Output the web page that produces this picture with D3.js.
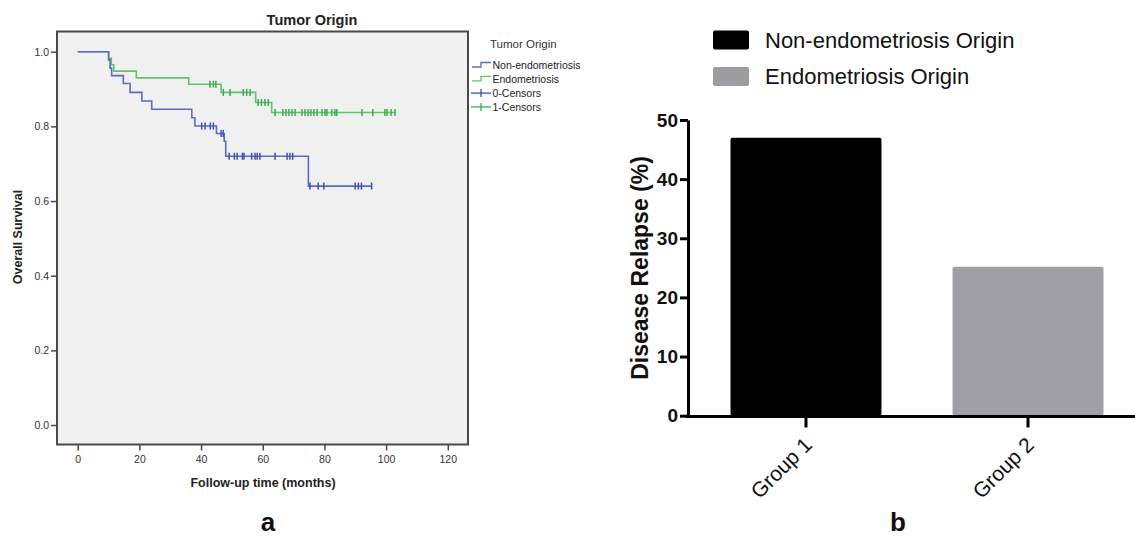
<!DOCTYPE html>
<html>
<head>
<meta charset="utf-8">
<script src="https://cdn.jsdelivr.net/npm/d3@7"></script>
<style>
  body { margin: 0; background: #fff; }
  svg { display: block; font-family: "Liberation Sans", Arial, sans-serif; }
</style>
</head>
<body>
<div id="chart"></div>
<script>
// ---- panel a: Kaplan-Meier curves ----
var kmTicksX = [0, 20, 40, 60, 80, 100, 120];
var kmTicksY = [0, 0.2, 0.4, 0.6, 0.8, 1.0];

var blueEventT = [10, 10.5, 11, 14.8, 17, 20.8, 24, 37, 38, 45, 47.5, 48, 74.8];
var blueEventS = [0.978, 0.956, 0.936, 0.915, 0.891, 0.868, 0.846, 0.823, 0.801, 0.781, 0.760, 0.720, 0.640];
var blueCensor = [40.2, 41.3, 43.0, 44.0, 46.5, 47.2, 49.1, 50.8, 51.7, 53.4, 53.9, 56.4, 57.5, 58.2, 59.1,
                  64.0, 67.9, 68.8, 69.7, 75.3, 78.0, 79.8, 90.0, 91.0, 92.0, 95.3];

var greenEventT = [10.1, 10.9, 11.7, 19, 36, 46.5, 57.7, 62.9];
var greenEventS = [0.982, 0.965, 0.948, 0.930, 0.913, 0.891, 0.864, 0.837];
var greenCensor = [42.9, 44.0, 44.8, 47.2, 49.4, 53.7, 54.8, 55.9, 58.5, 59.6, 60.7, 61.8, 64.0, 66.5, 67.5,
                   68.5, 69.5, 70.5, 72.7, 73.7, 74.7, 75.6, 76.6, 77.6, 79.2, 80.2, 80.8, 82.4, 83.4, 84.0,
                   92.2, 95.7, 99.6, 100.3, 101.6, 102.9];

var kmLegend = ["Non-endometriosis", "Endometriosis", "0-Censors", "1-Censors"];

// ---- panel b: bar chart ----
var groups = ["Group 1", "Group 2"];
var relapse = [47, 25.2];
var barLegend = ["Non-endometriosis Origin", "Endometriosis Origin"];
var barTicks = [0, 10, 20, 30, 40, 50];

var blue = "#5b6cc0", blueDark = "#3d50b4";
var green = "#62c26f", greenDark = "#3aae48";
var barColors = ["#000000", "#a0a0a4"];

var svg = d3.select("#chart").append("svg")
    .attr("width", 1135)
    .attr("height", 537);

// ================= panel a =================
var x = d3.scaleLinear().domain([0, 120]).range([77.7, 447.8]);
var y = d3.scaleLinear().domain([0, 1]).range([425, 51.7]);

var a = svg.append("g");

a.append("rect")
    .attr("x", 57).attr("y", 31.5)
    .attr("width", 411).attr("height", 413)
    .attr("fill", "#f0f0f0")
    .attr("stroke", "#4a4a4a")
    .attr("stroke-width", 2);

var yAx = a.append("g")
    .attr("transform", "translate(57,0)")
    .call(d3.axisLeft(y).tickValues(kmTicksY).tickSize(6).tickPadding(2).tickFormat(d3.format(".1f")));
yAx.select(".domain").remove();

var xAx = a.append("g")
    .attr("transform", "translate(0,444.5)")
    .call(d3.axisBottom(x).tickValues(kmTicksX).tickSize(6).tickPadding(5));
xAx.select(".domain").remove();

a.selectAll(".tick line").attr("stroke", "#4a4a4a").attr("stroke-width", 1.5);
a.selectAll(".tick text").attr("font-size", 10.5).attr("fill", "#333")
    .attr("font-family", "Liberation Sans, Arial, sans-serif");

function stepPoints(ts, ss, tEnd) {
    var pts = [[0, 1]];
    for (var i = 0; i < ts.length; i++) pts.push([ts[i], ss[i]]);
    pts.push([tEnd, ss[ss.length - 1]]);
    return pts;
}
function survAt(ts, ss, t) {
    var s = 1;
    for (var i = 0; i < ts.length; i++) if (ts[i] <= t) s = ss[i];
    return s;
}

var stepLine = d3.line()
    .x(function(d) { return x(d[0]); })
    .y(function(d) { return y(d[1]); })
    .curve(d3.curveStepAfter);

function drawCurve(ts, ss, cens, col, colDark) {
    a.append("path")
        .datum(stepPoints(ts, ss, d3.max(cens)))
        .attr("d", stepLine)
        .attr("fill", "none")
        .attr("stroke", col)
        .attr("stroke-width", 1.6);
    a.selectAll(null)
        .data(cens)
        .enter().append("line")
        .attr("x1", function(d) { return x(d); })
        .attr("x2", function(d) { return x(d); })
        .attr("y1", function(d) { return y(survAt(ts, ss, d)) - 3.5; })
        .attr("y2", function(d) { return y(survAt(ts, ss, d)) + 3.5; })
        .attr("stroke", colDark)
        .attr("stroke-width", 1.5);
}
drawCurve(greenEventT, greenEventS, greenCensor, green, greenDark);
drawCurve(blueEventT, blueEventS, blueCensor, blue, blueDark);

a.append("text")
    .attr("x", 312).attr("y", 25)
    .attr("text-anchor", "middle")
    .attr("font-size", 14.5).attr("font-weight", "bold").attr("fill", "#222")
    .text("Tumor Origin");

a.append("text")
    .attr("transform", "translate(22,237) rotate(-90)")
    .attr("text-anchor", "middle")
    .attr("font-size", 12.5).attr("font-weight", "bold").attr("fill", "#222")
    .text("Overall Survival");

a.append("text")
    .attr("x", 263).attr("y", 487)
    .attr("text-anchor", "middle")
    .attr("font-size", 12.5).attr("font-weight", "bold").attr("fill", "#222")
    .text("Follow-up time (months)");

// legend a
a.append("text")
    .attr("x", 490).attr("y", 48)
    .attr("font-size", 11.5).attr("fill", "#333")
    .text("Tumor Origin");

var legCols = [blue, green, blueDark, greenDark];
kmLegend.forEach(function(lab, i) {
    var cy = 65.5 + i * 13.8;
    var g = a.append("g");
    if (i < 2) {
        g.append("path")
            .attr("d", "M472," + (cy + 1.5) + "H481V" + (cy - 3) + "H491")
            .attr("fill", "none").attr("stroke", legCols[i]).attr("stroke-width", 1.3);
    } else {
        g.append("line").attr("x1", 471).attr("x2", 491).attr("y1", cy).attr("y2", cy)
            .attr("stroke", legCols[i]).attr("stroke-width", 1.3);
        g.append("line").attr("x1", 481).attr("x2", 481).attr("y1", cy - 4).attr("y2", cy + 4)
            .attr("stroke", legCols[i]).attr("stroke-width", 1.3);
    }
    g.append("text")
        .attr("x", 492.5).attr("y", cy + 3.8)
        .attr("font-size", 10.5).attr("fill", "#222")
        .text(lab);
});

a.append("text")
    .attr("x", 268).attr("y", 531)
    .attr("text-anchor", "middle")
    .attr("font-size", 26).attr("font-weight", "bold").attr("fill", "#111")
    .text("a");

// ================= panel b =================
var b = svg.append("g");
var yb = d3.scaleLinear().domain([0, 50]).range([415.7, 120]);
var xb = d3.scaleBand().domain(groups).range([655, 1179]).paddingInner(0.32).paddingOuter(0.34);

b.selectAll(".bar")
    .data(groups)
    .enter().append("rect")
    .attr("class", "bar")
    .attr("x", function(d) { return xb(d); })
    .attr("y", function(d, i) { return yb(relapse[i]); })
    .attr("width", xb.bandwidth())
    .attr("height", function(d, i) { return yb(0) - yb(relapse[i]); })
    .attr("rx", 2)
    .attr("fill", function(d, i) { return barColors[i]; });

var ybAx = b.append("g")
    .attr("transform", "translate(688,0)")
    .call(d3.axisLeft(yb).tickValues(barTicks).tickSize(8).tickSizeOuter(0).tickPadding(2));
ybAx.select(".domain").attr("stroke-width", 3);
ybAx.selectAll(".tick line").attr("stroke-width", 3);
ybAx.selectAll(".tick text")
    .attr("font-size", 19).attr("font-weight", "bold").attr("fill", "#111")
    .attr("font-family", "Liberation Sans, Arial, sans-serif");

var xbAx = b.append("g")
    .attr("transform", "translate(0,416.5)")
    .call(d3.axisBottom(xb).tickSize(11).tickSizeOuter(0).tickFormat(""));
xbAx.select(".domain").remove();
xbAx.selectAll(".tick line").attr("stroke-width", 3);
b.append("line")
    .attr("x1", 686.5).attr("x2", 1135)
    .attr("y1", 416.5).attr("y2", 416.5)
    .attr("stroke", "#000").attr("stroke-width", 3);

b.selectAll(".glab")
    .data(groups)
    .enter().append("text")
    .attr("class", "glab")
    .attr("transform", function(d) {
        return "translate(" + (xb(d) + xb.bandwidth() / 2 + 2) + ",441) rotate(-45)";
    })
    .attr("text-anchor", "end")
    .attr("dy", "0.35em")
    .attr("font-size", 21).attr("fill", "#111")
    .text(function(d) { return d; });

b.append("text")
    .attr("transform", "translate(648,268) rotate(-90)")
    .attr("text-anchor", "middle")
    .attr("font-size", 23).attr("font-weight", "bold").attr("fill", "#111")
    .text("Disease Relapse (%)");

barLegend.forEach(function(lab, i) {
    var cy = 40 + i * 36.5;
    b.append("rect")
        .attr("x", 713).attr("y", cy - 9.5)
        .attr("width", 36).attr("height", 19)
        .attr("rx", 2)
        .attr("fill", i === 0 ? "#000" : "#9d9da1");
    b.append("text")
        .attr("x", 765).attr("y", cy)
        .attr("dy", "0.35em")
        .attr("font-size", 22).attr("fill", "#111")
        .text(lab);
});

b.append("text")
    .attr("x", 898).attr("y", 531)
    .attr("text-anchor", "middle")
    .attr("font-size", 26).attr("font-weight", "bold").attr("fill", "#111")
    .text("b");
</script>
</body>
</html>
